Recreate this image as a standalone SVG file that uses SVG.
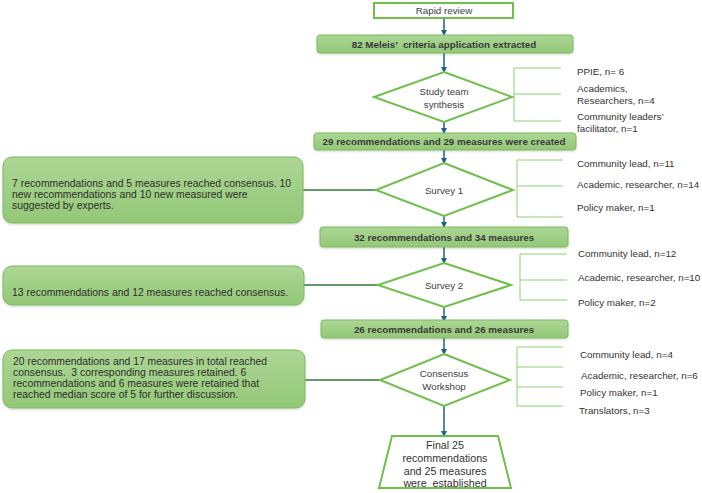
<svg xmlns="http://www.w3.org/2000/svg" width="702" height="493" viewBox="0 0 702 493">
<defs>
<linearGradient id="gbox" x1="0" y1="0" x2="0" y2="1">
<stop offset="0" stop-color="#acd695"/>
<stop offset="1" stop-color="#93c877"/>
</linearGradient>
<filter id="sh" x="-5%" y="-20%" width="110%" height="150%">
<feDropShadow dx="0" dy="1" stdDeviation="0.8" flood-color="#000000" flood-opacity="0.18"/>
</filter>
<marker id="arr" markerWidth="6" markerHeight="6" refX="5" refY="3" orient="auto" markerUnits="userSpaceOnUse">
<path d="M0,0 L6,3 L0,6 Z" fill="#1f5f8b"/>
</marker>
</defs>
<style>
.box{fill:url(#gbox);stroke:#7dbb5f;stroke-width:1;filter:url(#sh)}
.side{fill:url(#gbox);stroke:#7dbb5f;stroke-width:1;filter:url(#sh)}
.dia{fill:#ffffff;stroke:#6fbf4a;stroke-width:2}
.frame{fill:#ffffff;stroke:#6fbf4a;stroke-width:2}
.br{fill:none;stroke:#8dcf72;stroke-width:1}
.flow{fill:none;stroke:#1f5f8b;stroke-width:1.5;marker-end:url(#arr)}
.lk{fill:none;stroke:#2f7a30;stroke-width:1.5}
text{font-family:"Liberation Sans",Arial,sans-serif;white-space:pre}
.bt{font-size:9.8px;font-weight:bold;fill:#3a3a3a;text-anchor:middle;dominant-baseline:central}
.st{font-size:10.4px;fill:#2e2e2e;dominant-baseline:central}
.dt{font-size:9.7px;fill:#404040;text-anchor:middle;dominant-baseline:central}
.lt{font-size:9.8px;fill:#333333;dominant-baseline:central}
.ft{font-size:10.7px;fill:#333333;text-anchor:middle;dominant-baseline:central}
</style>

<g id="connectors">
<line class="flow" x1="444" y1="18" x2="444" y2="35"/>
<line class="flow" x1="444" y1="53" x2="444" y2="72"/>
<line class="flow" x1="444" y1="122" x2="444" y2="133"/>
<line class="flow" x1="444" y1="150" x2="444" y2="163"/>
<line class="flow" x1="444" y1="216" x2="444" y2="227"/>
<line class="flow" x1="444" y1="247" x2="444" y2="263"/>
<line class="flow" x1="444" y1="307" x2="444" y2="321"/>
<line class="flow" x1="444" y1="337" x2="444" y2="354"/>
<line class="flow" x1="444" y1="406" x2="444" y2="436"/>
<line class="lk" x1="303" y1="190" x2="376" y2="190"/>
<line class="lk" x1="304" y1="285" x2="378" y2="285"/>
<line class="lk" x1="305" y1="380" x2="380" y2="380"/>
<path class="br" d="M561,68 H514 V121 H561 M514,94 H561"/>
<path class="br" d="M563,160 H517 V217 H563 M517,186 H563"/>
<path class="br" d="M567,254 H520 V300 H567 M520,280 H567"/>
<path class="br" d="M563,347 H517 V406 H563 M517,367 H563 M517,387 H563"/>
</g>

<g id="rapid-review">
<rect class="frame" x="374" y="3" width="139" height="15"/>
<text class="dt" x="444" y="10.5" style="font-size:9.8px">Rapid review</text>
</g>

<g id="meleis">
<rect class="box" x="317" y="35" width="256" height="18" rx="3"/>
<text class="bt" x="444" y="44">82 Meleis’  criteria application extracted</text>
</g>

<g id="study-team">
<polygon class="dia" points="444,72 512,97 444,122 374,97"/>
<text class="dt" x="444" y="91">Study team</text>
<text class="dt" x="444" y="104">synthesis</text>
</g>

<g id="study-team-members">
<text class="lt" x="577" y="71">PPIE, n= 6</text>
<text class="lt" x="577" y="88">Academics,</text>
<text class="lt" x="577" y="100">Researchers, n=4</text>
<text class="lt" x="577" y="116">Community leaders’</text>
<text class="lt" x="577" y="128">facilitator, n=1</text>
</g>

<g id="created">
<rect class="box" x="314" y="133" width="262" height="17" rx="3"/>
<text class="bt" x="444" y="141.5">29 recommendations and 29 measures were created</text>
</g>

<g id="survey1-result">
<rect class="side" x="3" y="157" width="300" height="66" rx="9"/>
<text class="st" x="12" y="183">7 recommendations and 5 measures reached consensus. 10</text>
<text class="st" x="12" y="194">new recommendations and 10 new measured were</text>
<text class="st" x="12" y="205">suggested by experts.</text>
</g>

<g id="survey1">
<polygon class="dia" points="444,163 513,190 444,216 376,190"/>
<text class="dt" x="444" y="190">Survey 1</text>
</g>

<g id="survey1-members">
<text class="lt" x="577" y="163">Community lead, n=11</text>
<text class="lt" x="577" y="184">Academic, researcher, n=14</text>
<text class="lt" x="577" y="207">Policy maker, n=1</text>
</g>

<g id="after-survey1">
<rect class="box" x="320" y="227" width="248" height="20" rx="3"/>
<text class="bt" x="444" y="237">32 recommendations and 34 measures</text>
</g>

<g id="survey2-result">
<rect class="side" x="3" y="266" width="301" height="39" rx="9"/>
<text class="st" x="12" y="292">13 recommendations and 12 measures reached consensus.</text>
</g>

<g id="survey2">
<polygon class="dia" points="444,263 511,285 444,307 378,285"/>
<text class="dt" x="444" y="285">Survey 2</text>
</g>

<g id="survey2-members">
<text class="lt" x="578" y="253">Community lead, n=12</text>
<text class="lt" x="578" y="277">Academic, researcher, n=10</text>
<text class="lt" x="578" y="302">Policy maker, n=2</text>
</g>

<g id="after-survey2">
<rect class="box" x="321" y="320" width="247" height="18" rx="3"/>
<text class="bt" x="444" y="329">26 recommendations and 26 measures</text>
</g>

<g id="workshop-result">
<rect class="side" x="3" y="350" width="302" height="58" rx="9"/>
<text class="st" x="13" y="361">20 recommendations and 17 measures in total reached</text>
<text class="st" x="13" y="372">consensus.  3 corresponding measures retained. 6</text>
<text class="st" x="13" y="383">recommendations and 6 measures were retained that</text>
<text class="st" x="13" y="394">reached median score of 5 for further discussion.</text>
</g>

<g id="workshop">
<polygon class="dia" points="444,354 510,380 444,406 380,380"/>
<text class="dt" x="444" y="373">Consensus</text>
<text class="dt" x="444" y="386">Workshop</text>
</g>

<g id="workshop-members">
<text class="lt" x="580" y="354">Community lead, n=4</text>
<text class="lt" x="581" y="375">Academic, researcher, n=6</text>
<text class="lt" x="580" y="392">Policy maker, n=1</text>
<text class="lt" x="579" y="410">Translators, n=3</text>
</g>

<g id="final">
<polygon class="frame" points="392,436 498,436 511,488 379,488"/>
<text class="ft" x="445" y="445">Final 25</text>
<text class="ft" x="445" y="458">recommendations</text>
<text class="ft" x="445" y="471">and 25 measures</text>
<text class="ft" x="445" y="483">were  established</text>
</g>
</svg>
